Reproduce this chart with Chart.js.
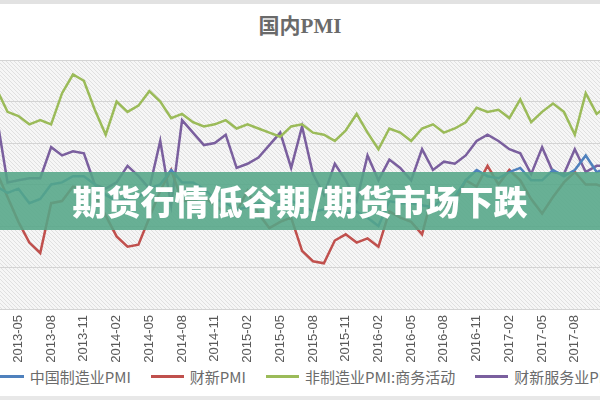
<!DOCTYPE html>
<html>
<head>
<meta charset="utf-8">
<script src="https://cdn.jsdelivr.net/npm/chart.js@4.4.1/dist/chart.umd.min.js"></script>
<style>
html, body { margin: 0; padding: 0; width: 600px; height: 400px; overflow: hidden; background: #fff; }
#wrap { position: relative; width: 600px; height: 400px; overflow: hidden; }
#topbar { position: absolute; left: 0; top: 0; width: 600px; height: 4px; background: #e2e2e2; }
#bottombar { position: absolute; left: 0; top: 396px; width: 600px; height: 4px; background: #e8e8e8; }
#title { position: absolute; left: 0; top: 9px; width: 600px; text-align: center; font: bold 21px "Liberation Serif", "Noto Sans CJK SC", serif; color: #6a6a6a; }
#box { position: absolute; left: -97px; top: 50px; width: 800px; height: 313px; }
#banner { position: absolute; left: 0; top: 172px; width: 600px; height: 58px; background: rgba(84, 166, 136, 0.88);
  color: #fff; text-align: center; font: 900 34px "Noto Sans CJK SC", sans-serif; line-height: 58px; }
#legend { position: absolute; left: -100px; width: 806px; top: 366px; height: 20px; display: flex; justify-content: center;
  align-items: center; white-space: nowrap; font: 15px "Noto Sans CJK SC", sans-serif; color: #6b6b6b; }
#legend .item { display: flex; align-items: center; margin: 0 10px; }
#legend .swatch { display: inline-block; width: 33px; height: 3px; margin-right: 6px; }
</style>
</head>
<body>
<div id="wrap">
  <div id="topbar"></div>
  <div id="title">国内PMI</div>
  <div id="box"><canvas id="pmiChart" width="800" height="313"></canvas></div>
  <div id="banner">期货行情低谷期/期货市场下跌</div>
  <div id="legend"></div>
  <div id="bottombar"></div>
</div>
<script>
// 月份 2013-03 .. 2017-11
const months = [
  '2013-03','2013-04','2013-05','2013-06','2013-07','2013-08','2013-09','2013-10','2013-11','2013-12',
  '2014-01','2014-02','2014-03','2014-04','2014-05','2014-06','2014-07','2014-08','2014-09','2014-10','2014-11','2014-12',
  '2015-01','2015-02','2015-03','2015-04','2015-05','2015-06','2015-07','2015-08','2015-09','2015-10','2015-11','2015-12',
  '2016-01','2016-02','2016-03','2016-04','2016-05','2016-06','2016-07','2016-08','2016-09','2016-10','2016-11','2016-12',
  '2017-01','2017-02','2017-03','2017-04','2017-05','2017-06','2017-07','2017-08','2017-09','2017-10','2017-11'
];

// 中国制造业PMI
const mfgPMI = [
  50.9, 50.6, 50.8, 50.1, 50.3, 51.0, 51.1, 51.4, 51.4, 51.0,
  50.5, 50.2, 50.3, 50.4, 50.8, 51.0, 51.7, 51.1, 51.1, 50.8, 50.3, 50.1,
  49.8, 49.9, 50.1, 50.1, 50.2, 50.2, 50.0, 49.7, 49.8, 49.8, 49.6, 49.7,
  49.4, 49.0, 50.2, 50.1, 50.1, 50.0, 49.9, 50.4, 50.4, 51.2, 51.7, 51.4,
  51.3, 51.6, 51.8, 51.2, 51.2, 51.7, 51.4, 51.7, 52.4, 51.6, 51.8
];

// 财新PMI
const caixinPMI = [
  51.6, 50.4, 49.2, 48.2, 47.7, 50.1, 50.2, 50.9, 50.8, 50.5,
  49.5, 48.5, 48.0, 48.1, 49.4, 50.7, 51.7, 50.2, 50.2, 50.4, 50.0, 49.6,
  49.7, 50.7, 49.6, 48.9, 49.2, 49.4, 47.8, 47.3, 47.2, 48.3, 48.6, 48.2,
  48.4, 48.0, 49.7, 49.4, 49.2, 48.6, 50.6, 50.0, 50.1, 51.2, 50.9, 51.9,
  51.0, 51.7, 51.2, 50.3, 49.6, 50.4, 51.1, 51.6, 51.0, 51.0, 50.8
];

// 非制造业PMI:商务活动
const nonMfgPMI = [
  55.6, 54.5, 54.3, 53.9, 54.1, 53.9, 55.4, 56.3, 56.0, 54.6,
  53.4, 55.0, 54.5, 54.8, 55.5, 55.0, 54.2, 54.4, 54.0, 53.8, 53.9, 54.1,
  53.7, 53.9, 53.7, 53.5, 53.3, 53.8, 53.9, 53.5, 53.4, 53.1, 53.6, 54.4,
  53.5, 52.7, 53.7, 53.5, 53.1, 53.7, 53.9, 53.5, 53.7, 54.0, 54.7, 54.5,
  54.6, 54.2, 55.1, 54.0, 54.5, 54.9, 54.5, 53.4, 55.4, 54.4, 54.8
];

// 财新服务业PMI
const caixinServPMI = [
  54.3, 51.1, 51.2, 51.3, 51.3, 52.8, 52.4, 52.6, 52.5, 51.0,
  50.8, 51.1, 51.9, 51.4, 50.8, 53.1, 50.0, 54.1, 53.5, 52.9, 53.0, 53.4,
  51.8, 52.0, 52.3, 52.9, 53.5, 51.8, 53.8, 51.5, 50.5, 52.0, 51.2, 50.2,
  52.4, 51.2, 52.2, 51.8, 51.2, 52.7, 51.7, 52.1, 52.0, 52.4, 53.1, 53.4,
  53.1, 52.7, 52.5, 51.5, 52.8, 51.6, 51.5, 52.7, 51.6, 51.9, 51.9
];

const seriesNames = ['中国制造业PMI', '财新PMI', '非制造业PMI:商务活动', '财新服务业PMI'];
const seriesColors = ['#4f81bd', '#c0504d', '#9bbb59', '#7a5f9e'];
const seriesData = [mfgPMI, caixinPMI, nonMfgPMI, caixinServPMI];

// 图表左右被裁掉一部分：x 轴范围比数据宽
const xMin = -8.58;
const xMax = 64.75;

// 斜线底纹背景
const hatchBg = {
  id: 'hatchBg',
  beforeDraw(chart) {
    const ctx = chart.ctx;
    const a = chart.chartArea;
    const tile = document.createElement('canvas');
    tile.width = 4; tile.height = 4;
    const t = tile.getContext('2d');
    t.fillStyle = '#f6f6f6';
    t.fillRect(0, 0, 4, 4);
    t.strokeStyle = '#e0e0e0';
    t.lineWidth = 1;
    t.beginPath();
    t.moveTo(-1, -1); t.lineTo(5, 5);
    t.moveTo(-1, 3); t.lineTo(1, 5);
    t.moveTo(3, -1); t.lineTo(5, 1);
    t.stroke();
    ctx.save();
    ctx.fillStyle = ctx.createPattern(tile, 'repeat');
    ctx.fillRect(a.left, a.top, a.right - a.left, a.bottom - a.top);
    ctx.restore();
  }
};

const ctx = document.getElementById('pmiChart').getContext('2d');
const pmiChart = new Chart(ctx, {
  type: 'line',
  data: {
    datasets: seriesNames.map((name, i) => ({
      label: name,
      data: seriesData[i].map((v, j) => ({ x: j, y: v })),
      borderColor: seriesColors[i],
      backgroundColor: seriesColors[i],
      borderWidth: 2.5,
      pointRadius: 0,
      tension: 0,
      fill: false
    }))
  },
  options: {
    responsive: false,
    animation: false,
    layout: { padding: { left: 0, right: 0, top: 10, bottom: 0 } },
    scales: {
      x: {
        type: 'linear',
        min: xMin,
        max: xMax,
        grid: { display: false, drawTicks: false },
        border: { display: false },
        ticks: {
          stepSize: 1,
          maxTicksLimit: 200,
          autoSkip: false,
          maxRotation: 90,
          minRotation: 90,
          padding: 6,
          color: '#595959',
          font: { size: 13, family: 'Liberation Sans' },
          callback: (v) => (Number.isInteger(v) && v >= 0 && v < months.length && (v - 2) % 3 === 0) ? months[v] : ''
        },
        afterFit(s) {
          s.height = 54;
          s.paddingLeft = 0;
          s.paddingRight = 0;
        }
      },
      y: {
        min: 45,
        max: 57,
        ticks: { display: false, stepSize: 2 },
        grid: { color: '#d4d4d4', drawTicks: false },
        border: { display: false },
        afterFit(s) { s.width = 0; }
      }
    },
    plugins: {
      legend: { display: false },
      tooltip: { enabled: false }
    }
  },
  plugins: [hatchBg]
});

// 图例（按数据集生成）
const legendEl = document.getElementById('legend');
pmiChart.data.datasets.forEach((ds) => {
  const item = document.createElement('span');
  item.className = 'item';
  const sw = document.createElement('span');
  sw.className = 'swatch';
  sw.style.background = ds.borderColor;
  item.appendChild(sw);
  item.appendChild(document.createTextNode(ds.label));
  legendEl.appendChild(item);
});
</script>
</body>
</html>
